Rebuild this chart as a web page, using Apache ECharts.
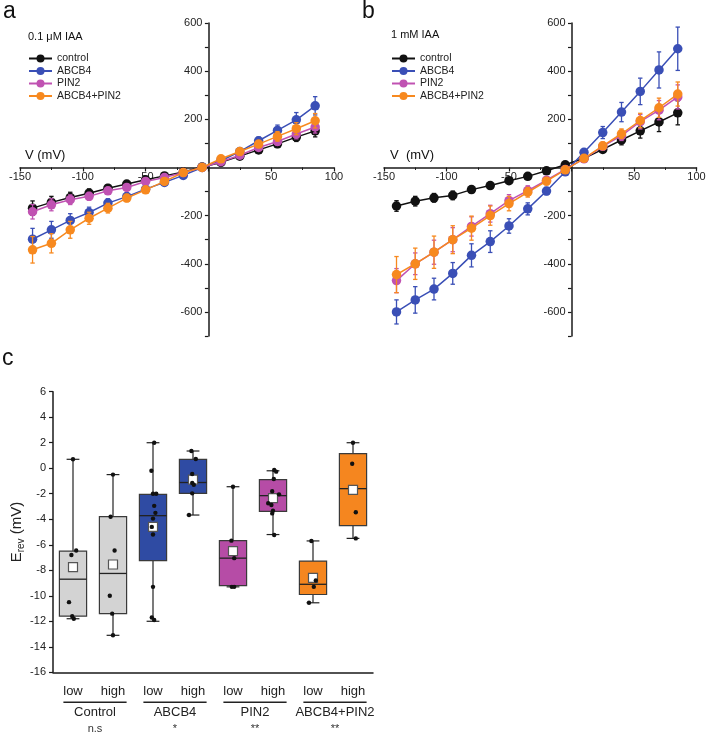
<!DOCTYPE html>
<html><head><meta charset="utf-8">
<script src="https://cdn.jsdelivr.net/npm/echarts@6/dist/echarts.min.js"></script>
<style>html,body{margin:0;padding:0;background:#fff}#c{width:709px;height:734px}</style>
</head><body><div id="c"></div><script>
// ---------- data: I-V curves ----------
const voltages = [-140,-125,-110,-95,-80,-65,-50,-35,-20,-5,10,25,40,55,70,85];
const seriesNames = ['control','ABCB4','PIN2','ABCB4+PIN2'];
const xTicksIV = [-150,-100,-50,50,100];
const yTicksIV = [600,400,200,-200,-400,-600];

// panel a : 0.1 uM IAA
const aControl = [-169,-145,-125,-107,-86,-69,-51,-35,-19,2,21,47,73,98,126,152];
const aABCB4   = [-298,-259,-220,-187,-148,-121,-90,-62,-33,0,28,66,111,154,198,256];
const aPIN2    = [-184,-155,-134,-120,-97,-83,-58,-42,-21,0,24,51,83,108,139,168];
const aBoth    = [-342,-315,-259,-211,-169,-127,-93,-58,-21,0,36,66,97,129,161,194];
const aControlErr = [30,25,22,18,15,13,10,8,6,4,5,8,10,15,18,25];
const aABCB4Err   = [45,35,28,22,18,15,12,10,8,5,6,10,15,22,30,38];
const aPIN2Err    = [30,25,20,16,13,10,8,6,5,4,5,8,12,15,20,25];
const aBothErr    = [55,40,35,25,20,15,12,10,8,5,6,10,14,20,25,30];

// panel b : 1 mM IAA
const bControl = [-160,-140,-126,-116,-92,-75,-55,-37,-14,11,38,75,114,152,189,227];
const bABCB4   = [-600,-550,-505,-440,-365,-308,-243,-172,-98,-18,63,145,230,316,405,493];
const bPIN2    = [-470,-400,-352,-300,-245,-192,-138,-96,-53,-8,36,88,132,190,238,293];
const bBoth    = [-445,-400,-352,-300,-252,-200,-150,-103,-57,-10,38,90,140,195,248,305];
const bControlErr = [22,20,18,18,12,10,8,6,5,4,5,10,20,30,40,50];
const bABCB4Err   = [50,55,45,45,48,45,30,25,15,8,10,25,40,55,75,90];
const bPIN2Err    = [50,45,50,50,40,35,25,20,15,8,8,15,20,30,40,50];
const bBothErr    = [75,65,67,58,50,40,30,20,15,8,8,15,20,30,40,50];

// ---------- data: E_rev box plots ----------
const groups = ['Control','ABCB4','PIN2','ABCB4+PIN2'];
const significance = ['n.s','*','**','**'];
const levels = ['low','high'];
const cats = ['Control low','Control high','ABCB4 low','ABCB4 high','PIN2 low','PIN2 high','ABCB4+PIN2 low','ABCB4+PIN2 high'];
const eTicks = [6,4,2,0,-2,-4,-6,-8,-10,-12,-14,-16];
// [whisker low, Q1, median, Q3, whisker high]
const boxStats = [
  [-11.8,-11.6,-8.7,-6.5,0.7],
  [-13.1,-11.4,-8.25,-3.8,-0.5],
  [-12.0,-7.25,-3.72,-2.05,2.0],
  [-3.67,-1.97,-1.12,0.69,1.35],
  [-9.3,-9.2,-7.05,-5.68,-1.45],
  [-5.2,-3.38,-2.15,-0.9,-0.2],
  [-10.55,-9.9,-9.1,-7.28,-5.7],
  [-5.5,-4.5,-1.6,1.15,2.0]
];
const boxMeans = [-7.75,-7.55,-4.6,-0.9,-6.5,-2.35,-8.6,-1.7];
const pointValues = [
  [0.7,-6.8,-6.45,-10.5,-11.6,-11.8],
  [-0.5,-3.8,-6.45,-10.0,-11.4,-13.1],
  [2.0,-0.2,-2.0,-2.0,-2.95,-3.5,-3.95,-4.6,-5.2,-9.3,-11.7,-11.9],
  [1.35,0.72,-0.45,-1.15,-1.3,-1.97,-3.67],
  [-1.45,-5.68,-7.05,-9.3,-9.3],
  [-0.14,-0.27,-0.85,-1.8,-2.05,-2.75,-2.88,-3.33,-3.54,-5.24],
  [-5.7,-8.8,-9.3,-10.55],
  [2.0,0.35,-3.45,-5.5]
];
const pointJitter = [
  [0,-0.04,0.08,-0.1,-0.02,0.02],
  [0,-0.06,0.04,-0.08,-0.02,0],
  [0.03,-0.04,0,0.08,0.03,0.06,0,-0.03,0,0,-0.03,0.03],
  [-0.04,0.07,-0.02,-0.02,0.02,-0.02,-0.1],
  [0,-0.04,0.03,-0.03,0.03],
  [0.03,0.08,0.02,-0.02,0.15,-0.12,-0.04,0,-0.02,0.03],
  [-0.04,0.07,0.02,-0.1],
  [0,-0.02,0.07,0.07]
];

// ---------- styles ----------
const FONT = 'Liberation Sans, Arial, sans-serif';
const lineColors = ['#111111','#3a4fb6','#c052b2','#f7891f'];
const boxColors = ['#d3d3d3','#2f4ba3','#b64ca6','#f5861f'];
const AX = '#1a1a1a';

const chart = echarts.init(document.getElementById('c'), null, {renderer:'canvas'});

const IVX = {min:-150, max:100}, IVY = {min:-700, max:600};
const gridA = {left:20, top:23, width:314, height:313};
const gridB = {left:384, top:23, width:312.5, height:313};

function ivAxes(gi, g){
  // axes cross at (0,0): shift them from the grid edge to the zero position
  const xOff = -g.height*(0-IVY.min)/(IVY.max-IVY.min);
  const yOff = -g.width*(0-IVX.min)/(IVX.max-IVX.min);
  return {
    x: {type:'value', gridIndex:gi, min:IVX.min, max:IVX.max, interval:50,
        position:'bottom', offset:xOff,
        axisLine:{onZero:false, lineStyle:{color:AX,width:1.5}},
        axisTick:{show:true,length:4,lineStyle:{color:AX,width:1.2}},
        minorTick:{show:true,splitNumber:2,length:2.5,lineStyle:{color:AX,width:1}},
        splitLine:{show:false},
        axisLabel:{margin:4,fontSize:11,color:'#222',fontFamily:FONT,
          formatter:v=> xTicksIV.indexOf(v)>=0 ? String(v) : ''}},
    y: {type:'value', gridIndex:gi, min:IVY.min, max:IVY.max, interval:100,
        position:'left', offset:yOff,
        axisLine:{onZero:false, lineStyle:{color:AX,width:1.5}},
        axisTick:{show:true,length:3.5,lineStyle:{color:AX,width:1.2}},
        splitLine:{show:false},
        axisLabel:{margin:6,fontSize:11,color:'#222',fontFamily:FONT,
          formatter:v=> yTicksIV.indexOf(v)>=0 ? String(v) : ''}}
  };
}
const axA = ivAxes(0, gridA), axB = ivAxes(1, gridB);

function errRender(params, api){
  const x = api.value(0), lo = api.value(1), hi = api.value(2);
  const p1 = api.coord([x,lo]), p2 = api.coord([x,hi]);
  const c = 2.2;
  const st = {stroke: api.visual('color'), lineWidth:1.3};
  return {type:'group', children:[
    {type:'line', shape:{x1:p1[0],y1:p1[1],x2:p2[0],y2:p2[1]}, style:st},
    {type:'line', shape:{x1:p1[0]-c,y1:p1[1],x2:p1[0]+c,y2:p1[1]}, style:st},
    {type:'line', shape:{x1:p2[0]-c,y1:p2[1],x2:p2[0]+c,y2:p2[1]}, style:st}
  ]};
}

function ivSeries(gi, vals, errs){
  const out = [];
  vals.forEach((arr,k)=>{
    out.push({type:'custom', name:'err'+gi+'_'+k, xAxisIndex:gi, yAxisIndex:gi,
      renderItem:errRender, itemStyle:{color:lineColors[k]}, z:2+k*2,
      encode:{x:0,y:[1,2]},
      data: voltages.map((v,i)=>[v, arr[i]-errs[k][i], arr[i]+errs[k][i]])});
    out.push({type:'line', name:seriesNames[k], xAxisIndex:gi, yAxisIndex:gi,
      symbol:'circle', symbolSize:9.5, z:3+k*2,
      lineStyle:{color:lineColors[k],width:1.5},
      itemStyle:{color:lineColors[k]},
      emphasis:{disabled:true},
      data: voltages.map((v,i)=>[v, arr[i]])});
  });
  return out;
}

function boxRender(params, api){
  const i = api.value(0);
  const wl = api.value(1), q1 = api.value(2), med = api.value(3), q3 = api.value(4), wh = api.value(5);
  const band = api.size([1,0])[0];
  const bw = band*0.68, cw = band*0.32;
  const x = api.coord([i, med])[0];
  const y = v => api.coord([i, v])[1];
  const col = boxColors[Math.floor(i/2)];
  const ws = {stroke:'#222', lineWidth:1.2};
  return {type:'group', children:[
    {type:'line', shape:{x1:x,y1:y(wh),x2:x,y2:y(q3)}, style:ws},
    {type:'line', shape:{x1:x,y1:y(q1),x2:x,y2:y(wl)}, style:ws},
    {type:'line', shape:{x1:x-cw/2,y1:y(wh),x2:x+cw/2,y2:y(wh)}, style:ws},
    {type:'line', shape:{x1:x-cw/2,y1:y(wl),x2:x+cw/2,y2:y(wl)}, style:ws},
    {type:'rect', shape:{x:x-bw/2, y:y(q3), width:bw, height:y(q1)-y(q3)},
      style:{fill:col, stroke:'#3a3a3a', lineWidth:1.2}},
    {type:'line', shape:{x1:x-bw/2,y1:y(med),x2:x+bw/2,y2:y(med)}, style:{stroke:'#222',lineWidth:1.3}}
  ]};
}
function pointRender(params, api){
  const i = api.value(0), v = api.value(1), j = api.value(2);
  const band = api.size([1,0])[0];
  const p = api.coord([i, v]);
  return {type:'circle', shape:{cx:p[0]+j*band, cy:p[1], r:2.2}, style:{fill:'#111'}};
}

const ptsData = [];
pointValues.forEach((arr,i)=>arr.forEach((v,k)=>ptsData.push([i, v, pointJitter[i][k]])));

const titleStyle = {fontFamily:FONT, fontWeight:'normal', color:'#111'};
const legendBase = {orient:'vertical', padding:0, itemGap:1.5, itemWidth:23, itemHeight:10,
     selectedMode:false, data:seriesNames, textStyle:{fontSize:10.5,color:'#222',fontFamily:FONT}};
const option = {
  backgroundColor:'#fff',
  animation:false,
  textStyle:{fontFamily:FONT},
  title:[
    {text:'a', left:3, top:0, padding:0, textStyle:Object.assign({fontSize:23},titleStyle)},
    {text:'0.1 μM IAA', left:28, top:31, padding:0, textStyle:Object.assign({fontSize:11},titleStyle)},
    {text:'V (mV)', left:25, top:149, padding:0, textStyle:Object.assign({fontSize:13},titleStyle)},
    {text:'b', left:362, top:0, padding:0, textStyle:Object.assign({fontSize:23},titleStyle)},
    {text:'1 mM IAA', left:391, top:29, padding:0, textStyle:Object.assign({fontSize:11},titleStyle)},
    {text:'V  (mV)', left:390, top:149, padding:0, textStyle:Object.assign({fontSize:13},titleStyle)},
    {text:'c', left:2, top:347, padding:0, textStyle:Object.assign({fontSize:23},titleStyle)}
  ],
  legend:[
    Object.assign({left:28, top:53}, legendBase),
    Object.assign({left:391, top:53}, legendBase)
  ],
  grid:[
    Object.assign({outerBoundsMode:'none'}, gridA),
    Object.assign({outerBoundsMode:'none'}, gridB),
    {left:53, top:391.7, width:320, height:280.6, outerBoundsMode:'none'}
  ],
  xAxis:[axA.x, axB.x,
    {type:'category', gridIndex:2, data:cats, boundaryGap:true,
     axisLine:{onZero:false, lineStyle:{color:AX,width:1.5}}, axisTick:{show:false}, splitLine:{show:false},
     axisLabel:{interval:0, margin:13, fontSize:13, color:'#222', fontFamily:FONT,
       formatter:v=>levels.find(l=>v.endsWith(' '+l))}}],
  yAxis:[axA.y, axB.y,
    {type:'value', gridIndex:2, min:-16, max:6, interval:2,
     axisLine:{show:true, onZero:false, lineStyle:{color:AX,width:1.5}},
     axisTick:{show:true, length:4, lineStyle:{color:AX,width:1.2}},
     splitLine:{show:false},
     axisLabel:{margin:7, fontSize:11, color:'#222', fontFamily:FONT,
       formatter:v=> eTicks.indexOf(v)>=0 ? String(v) : ''},
     name:'{e|E}{s|rev}{e| (mV)}', nameLocation:'middle', nameGap:27,
     nameTextStyle:{color:'#222', fontFamily:FONT,
       rich:{e:{fontSize:15, fontFamily:FONT, color:'#222'}, s:{fontSize:10, fontFamily:FONT, color:'#222', verticalAlign:'bottom', padding:[8,0,0,0]}}}}],
  series:[
    ...ivSeries(0,[aControl,aABCB4,aPIN2,aBoth],[aControlErr,aABCB4Err,aPIN2Err,aBothErr]),
    ...ivSeries(1,[bControl,bABCB4,bPIN2,bBoth],[bControlErr,bABCB4Err,bPIN2Err,bBothErr]),
    {type:'custom', name:'box', xAxisIndex:2, yAxisIndex:2, renderItem:boxRender, z:2,
     encode:{x:0,y:[1,2,3,4,5]},
     data: boxStats.map((s,i)=>[i].concat(s))},
    {type:'scatter', name:'mean', xAxisIndex:2, yAxisIndex:2, symbol:'rect', symbolSize:9, z:3,
     itemStyle:{color:'#ffffff', opacity:1, borderColor:'#555', borderWidth:1.2}, emphasis:{disabled:true},
     data: boxMeans.map((m,i)=>[i,m])},
    {type:'custom', name:'points', xAxisIndex:2, yAxisIndex:2, renderItem:pointRender, z:4,
     encode:{x:0,y:1}, data: ptsData}
  ]
};
chart.setOption(option);

// group labels under the category axis, positioned through the axis
const xs = cats.map(c => chart.convertToPixel({xAxisIndex:2}, c));
const yBase = chart.convertToPixel({yAxisIndex:2}, -16);
const band = xs[1]-xs[0];
const gfx = [];
groups.forEach((g,k)=>{
  const cx = (xs[2*k]+xs[2*k+1])/2 + 2;
  const half = band*0.79;
  gfx.push({type:'line', shape:{x1:cx-half, y1:yBase+30, x2:cx+half, y2:yBase+30}, style:{stroke:'#222', lineWidth:1.5}});
  gfx.push({type:'text', x:cx, y:yBase+40.5, style:{text:g, align:'center', verticalAlign:'middle', fontSize:13, fontFamily:FONT, fill:'#222'}});
  gfx.push({type:'text', x:cx, y:yBase+57, style:{text:significance[k], align:'center', verticalAlign:'middle', fontSize:11, fontFamily:FONT, fill:'#333'}});
});
chart.setOption({graphic:gfx});
</script></body></html>
